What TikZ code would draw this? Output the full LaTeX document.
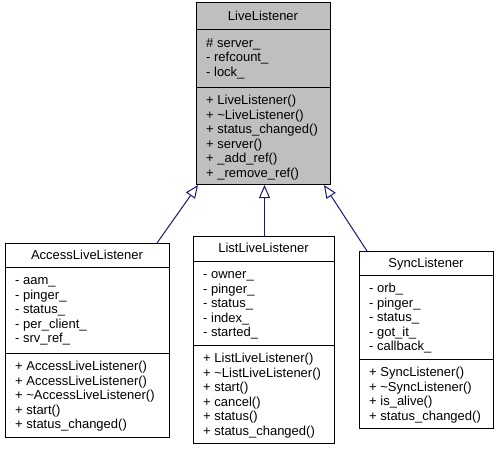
\documentclass[tikz,border=0pt]{standalone}
\usepackage{fontspec}
\setmainfont{Liberation Sans}
\usetikzlibrary{arrows.meta,calc}
\definecolor{edgeblue}{HTML}{191970}
\definecolor{rootgray}{HTML}{BFBFBF}
\begin{document}
\begin{tikzpicture}[x=1pt,y=-1pt,
  classbox/.style={draw=black, line width=1pt, inner sep=0pt, anchor=north west},
  member/.style={anchor=base west, inner sep=0pt, font=\fontsize{13}{14.5}\selectfont},
  ctitle/.style={anchor=base, inner sep=0pt, font=\fontsize{13}{14.5}\selectfont},
  divider/.style={line width=1pt},
  inherit/.style={draw=edgeblue, line width=1pt, -{Triangle[open, length=13pt, width=11pt]}}]
\useasboundingbox (0,0) rectangle (499,451);

% LiveListener
\node[classbox, fill=rootgray, minimum width=134pt, minimum height=182pt] (ll) at (196,2) {};
\draw[divider] (196,29.5) -- (330,29.5);
\draw[divider] (196,87) -- (330,87);
\node[ctitle] (ll-t) at (263,20) {LiveListener};
\foreach \t [count=\i from 0] in {\# server\_, - refcount\_, - lock\_}
  \node[member] (ll-a\i) at (206,{47+14.5*\i}) {\t};
\foreach \t [count=\i from 0] in {+ LiveListener(), + \textasciitilde LiveListener(), + status\_changed(), + server(), + \_add\_ref(), + \_remove\_ref()}
  \node[member] (ll-m\i) at (206,{104.5+14.5*\i}) {\t};

% AccessLiveListener
\node[classbox, fill=white, minimum width=164pt, minimum height=194pt] (acc) at (5,243) {};
\draw[divider] (5,267) -- (169,267);
\draw[divider] (5,353) -- (169,353);
\node[ctitle] (acc-t) at (87,259.5) {AccessLiveListener};
\foreach \t [count=\i from 0] in {- aam\_, - pinger\_, - status\_, - per\_client\_, - srv\_ref\_}
  \node[member] (acc-a\i) at (15,{284.5+14.5*\i}) {\t};
\foreach \t [count=\i from 0] in {+ AccessLiveListener(), + AccessLiveListener(), + \textasciitilde AccessLiveListener(), + start(), + status\_changed()}
  \node[member] (acc-m\i) at (15,{370.5+14.5*\i}) {\t};

% ListLiveListener
\node[classbox, fill=white, minimum width=141pt, minimum height=207pt] (list) at (193,236) {};
\draw[divider] (193,261) -- (334,261);
\draw[divider] (193,345) -- (334,345);
\node[ctitle] (list-t) at (263.5,252.5) {ListLiveListener};
\foreach \t [count=\i from 0] in {- owner\_, - pinger\_, - status\_, - index\_, - started\_}
  \node[member] (list-a\i) at (203,{278.5+14.5*\i}) {\t};
\foreach \t [count=\i from 0] in {+ ListLiveListener(), + \textasciitilde ListLiveListener(), + start(), + cancel(), + status(), + status\_changed()}
  \node[member] (list-m\i) at (203,{362.5+14.5*\i}) {\t};

% SyncListener
\node[classbox, fill=white, minimum width=134pt, minimum height=177pt] (sync) at (359,251) {};
\draw[divider] (359,275) -- (493,275);
\draw[divider] (359,359) -- (493,359);
\node[ctitle] (sync-t) at (426,267.5) {SyncListener};
\foreach \t [count=\i from 0] in {- orb\_, - pinger\_, - status\_, - got\_it\_, - callback\_}
  \node[member] (sync-a\i) at (369,{292.5+14.5*\i}) {\t};
\foreach \t [count=\i from 0] in {+ SyncListener(), + \textasciitilde SyncListener(), + is\_alive(), + status\_changed()}
  \node[member] (sync-m\i) at (369,{376.5+14.5*\i}) {\t};

% inheritance
\draw[inherit] ($(acc.north west)+(152,0)$) -- ($(ll.south west)+(2,0)$);
\draw[inherit] ($(list.north)+(0.5,0)$) -- ($(ll.south)+(1,0)$);
\draw[inherit] ($(sync.north west)+(8,0)$) -- ($(ll.south east)+(-7,0)$);
\end{tikzpicture}
\end{document}
